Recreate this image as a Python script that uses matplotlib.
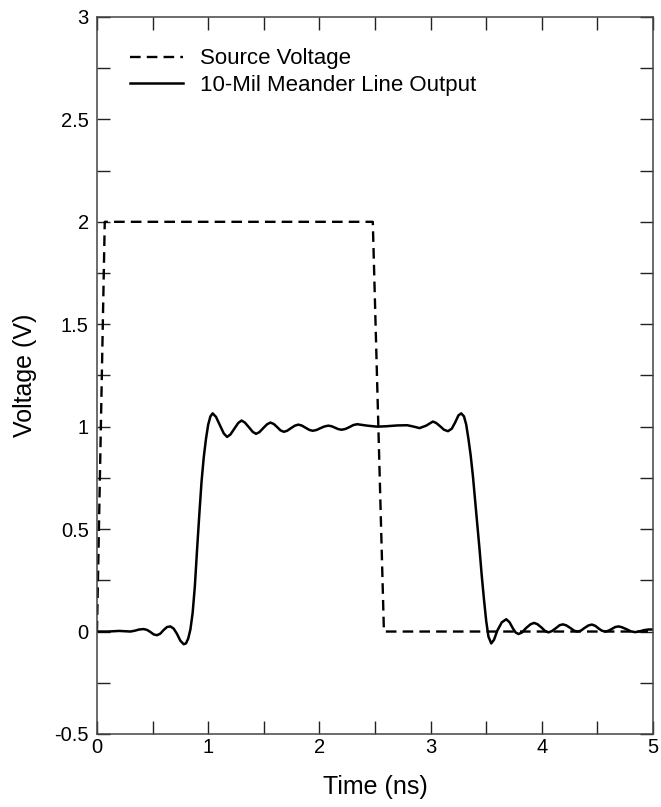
import matplotlib
matplotlib.use("Agg")
import matplotlib.pyplot as plt
from matplotlib.ticker import MultipleLocator, FormatStrFormatter

plt.rcParams["font.family"] = ["Liberation Sans", "DejaVu Sans"]

# source pulse (trapezoid)
t_source = [0.0, 0.07, 2.48, 2.58, 5.0]
v_source = [0.0, 2.0, 2.0, 0.0, 0.0]

# meander line output, read point by point
t_output = [
    0.00, 0.10, 0.20, 0.30, 0.34, 0.38, 0.42, 0.45, 0.48, 0.51, 0.54, 0.57,
    0.60, 0.63, 0.66, 0.69, 0.72, 0.75, 0.78, 0.80, 0.82, 0.84, 0.86, 0.88,
    0.90, 0.92, 0.94, 0.96, 0.98, 1.00, 1.02, 1.04, 1.07, 1.105, 1.14, 1.17,
    1.20, 1.235, 1.27, 1.30, 1.33, 1.365, 1.40, 1.43, 1.46, 1.495, 1.53, 1.56,
    1.59, 1.62, 1.65, 1.68, 1.71, 1.745, 1.78, 1.81, 1.84, 1.875, 1.91, 1.94,
    1.975, 2.01, 2.045, 2.08, 2.11, 2.14, 2.17, 2.20, 2.235, 2.27, 2.305, 2.34,
    2.43, 2.52, 2.60, 2.70, 2.79, 2.85, 2.90, 2.96, 3.02, 3.05, 3.09, 3.12,
    3.156, 3.19, 3.22, 3.25, 3.275, 3.30, 3.32, 3.34, 3.36, 3.38, 3.40, 3.42,
    3.44, 3.46, 3.48, 3.50, 3.52, 3.545, 3.57, 3.60, 3.64, 3.68, 3.71, 3.74,
    3.765, 3.79, 3.82, 3.86, 3.90, 3.93, 3.96, 4.00, 4.03, 4.06, 4.09, 4.13,
    4.16, 4.19, 4.22, 4.26, 4.29, 4.32, 4.35, 4.38, 4.42, 4.45, 4.48, 4.51,
    4.54, 4.57, 4.60, 4.63, 4.66, 4.69, 4.72, 4.77, 4.80, 4.84, 4.88, 4.92,
    4.96, 5.00,
]
v_output = [
    0.000, 0.000, 0.003, 0.000, 0.004, 0.010, 0.012, 0.008, -0.002, -0.014, -0.018, -0.010,
    0.008, 0.022, 0.025, 0.014, -0.012, -0.045, -0.062, -0.058, -0.035, 0.010, 0.090, 0.220,
    0.400, 0.570, 0.730, 0.850, 0.940, 1.010, 1.050, 1.065, 1.048, 1.008, 0.967, 0.950,
    0.962, 0.990, 1.018, 1.030, 1.020, 0.998, 0.975, 0.965, 0.973, 0.993, 1.012, 1.020,
    1.013, 0.998, 0.982, 0.975, 0.980, 0.993, 1.005, 1.010, 1.006, 0.995, 0.984, 0.980,
    0.984, 0.993, 1.001, 1.005, 1.002, 0.995, 0.988, 0.985, 0.989, 0.998, 1.008, 1.012,
    1.005, 1.000, 1.002, 1.006, 1.007, 1.000, 0.993, 1.005, 1.025, 1.018, 1.000, 0.985,
    0.978, 0.990, 1.020, 1.055, 1.065, 1.050, 1.010, 0.940, 0.860, 0.760, 0.640, 0.520,
    0.400, 0.270, 0.155, 0.050, -0.025, -0.058, -0.040, 0.005, 0.045, 0.060, 0.045, 0.015,
    -0.005, -0.012, -0.005, 0.018, 0.036, 0.042, 0.036, 0.018, 0.002, -0.004, 0.002, 0.018,
    0.031, 0.035, 0.030, 0.016, 0.004, 0.000, 0.004, 0.016, 0.030, 0.034, 0.028, 0.015,
    0.004, 0.000, 0.004, 0.013, 0.022, 0.025, 0.021, 0.009, 0.001, -0.003, 0.001, 0.007,
    0.010, 0.010,
]

fig = plt.figure(figsize=(6.61, 8.07), dpi=100)
ax = fig.add_axes([0.1467, 0.0905, 0.8413, 0.8885])

ax.plot(t_source, v_source, color="black", lw=1.7, dashes=(4.5, 2.6),
        label="Source Voltage")
ax.plot(t_output, v_output, color="black", lw=1.8, solid_joinstyle="round",
        label="10-Mil Meander Line Output")

ax.set_xlim(0, 5)
ax.set_ylim(-0.5, 3)
ax.xaxis.set_major_locator(MultipleLocator(1))
ax.xaxis.set_minor_locator(MultipleLocator(0.5))
ax.yaxis.set_major_locator(MultipleLocator(0.5))
ax.yaxis.set_minor_locator(MultipleLocator(0.25))
ax.yaxis.set_major_formatter(FormatStrFormatter("%g"))
ax.xaxis.set_major_formatter(FormatStrFormatter("%g"))

ax.tick_params(which="both", direction="in", top=True, right=True,
               length=9.5, width=1.0, color="#222222", labelsize=14.5)
ax.tick_params(axis="x", pad=3)
ax.tick_params(axis="y", pad=6)
for sp in ax.spines.values():
    sp.set_linewidth(1.1)
    sp.set_color("#444444")

ax.set_xlabel("Time (ns)", fontsize=18, labelpad=13)
ax.set_ylabel("Voltage (V)", fontsize=18, labelpad=12)

ax.legend(loc="upper left", bbox_to_anchor=(0.059, 0.956), frameon=False,
          fontsize=16, handlelength=2.4, handletextpad=0.75,
          labelspacing=0.25, borderpad=0, borderaxespad=0)

fig.savefig("out.png", dpi=100)
